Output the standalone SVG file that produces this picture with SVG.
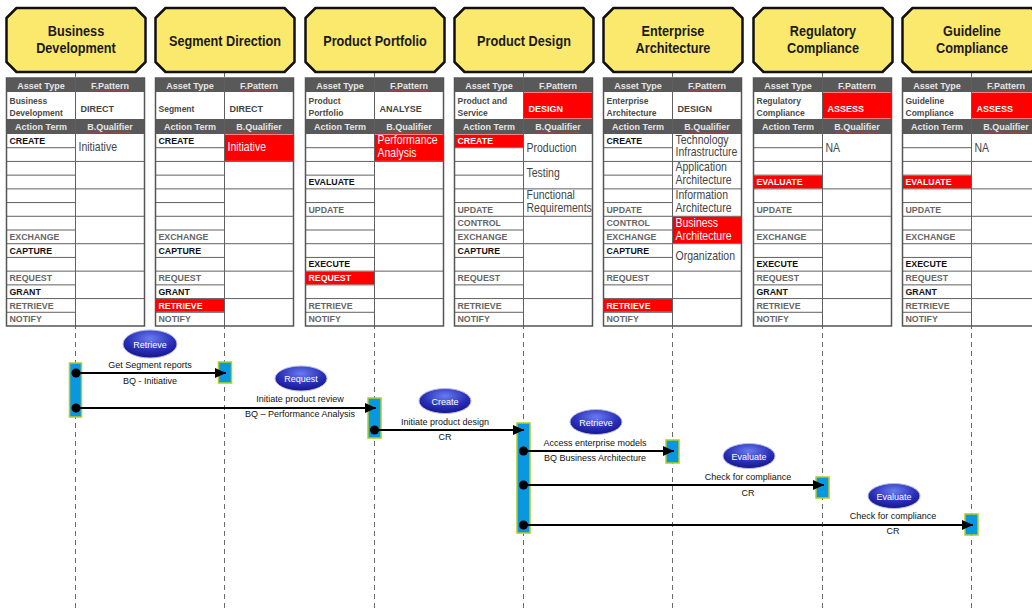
<svg xmlns="http://www.w3.org/2000/svg" xmlns:xlink="http://www.w3.org/1999/xlink" width="1032" height="612" viewBox="0 0 1032 612">
<defs>
<style>
.oct{fill:#fbe96e;stroke:#111;stroke-width:2.5;stroke-linejoin:round}
.ttl{font-family:"Liberation Sans",Arial,sans-serif;font-weight:bold;font-size:15.5px;text-anchor:middle;fill:#1a1a1a}
.hd{font-family:"Liberation Sans",Arial,sans-serif;font-weight:bold;font-size:9px;text-anchor:middle;fill:#e6e6e6}
.at{font-family:"Liberation Sans",Arial,sans-serif;font-weight:bold;font-size:8.5px;fill:#4a4a4a}
.fp{font-family:"Liberation Sans",Arial,sans-serif;font-weight:bold;font-size:9px;fill:#444}
.ak{font-family:"Liberation Sans",Arial,sans-serif;font-weight:bold;font-size:8.8px;fill:#111}
.ag{font-family:"Liberation Sans",Arial,sans-serif;font-weight:bold;font-size:8.8px;fill:#666}
.bq{font-family:"Liberation Sans",Arial,sans-serif;font-size:12.5px;fill:#444}
.w{fill:#fff}
.red{fill:#ff0000}
.hdr{fill:#595959}
.grid{stroke:#606060;stroke-width:1;fill:none}
.sq{stroke:#e03030;stroke-width:0.8;stroke-dasharray:1 1}
.life{stroke:#6a6a6a;stroke-width:1;stroke-dasharray:5 4;fill:none}
.bar{fill:#0a97e2;stroke:#b5cc1e;stroke-width:1.5}
.msg{stroke:#000;stroke-width:2;fill:none;marker-end:url(#ah)}
.dot{fill:#000}
.lbl{font-family:"Liberation Sans",Arial,sans-serif;font-size:9px;text-anchor:middle;fill:#111}
.ell{fill:url(#eg);stroke:#b8bce0;stroke-width:1}
.elt{font-family:"Liberation Sans",Arial,sans-serif;font-size:9px;text-anchor:middle;fill:#fff}
</style>
<radialGradient id="eg" cx="0.5" cy="0.3" r="0.7">
<stop offset="0" stop-color="#6a7cf0"/>
<stop offset="0.6" stop-color="#2a30b8"/>
<stop offset="1" stop-color="#15158a"/>
</radialGradient>
<marker id="ah" markerUnits="userSpaceOnUse" markerWidth="12" markerHeight="10" refX="11" refY="5" orient="auto">
<path d="M0,0 L11,5 L0,10 Z" fill="#000"/>
</marker>
<g id="tbl">
<rect x="0" y="78" width="138" height="248" fill="#fff"/>
<rect class="hdr" x="0" y="78" width="138" height="14"/>
<rect class="hdr" x="0" y="119" width="138" height="15"/>
<path class="grid" d="M69,78V326 M0,147.71H69 M0,161.43H69 M0,175.14H69 M0,188.86H69 M0,202.57H69 M0,216.29H69 M0,230H69 M0,243.71H69 M0,257.43H69 M0,271.14H69 M0,284.86H69 M0,298.57H69 M0,312.29H69 M69,161.43H138 M69,188.86H138 M69,216.29H138 M69,243.71H138 M69,271.14H138 M69,298.57H138"/>
<rect x="0" y="78" width="138" height="248" fill="none" stroke="#555" stroke-width="1.5"/>
<text class="hd" x="34.5" y="88.5">Asset Type</text>
<text class="hd" x="103.5" y="88.5">F.Pattern</text>
<text class="hd" x="34.5" y="130">Action Term</text>
<text class="hd" x="103.5" y="130">B.Qualifier</text>
<path class="sq" d="M85,90.5H122 M83,132.5H124"/>
</g>
<path id="octp" class="oct" d="M10,8H129L139,18V62L129,72H10L0,62V18Z"/>
</defs>
<rect width="1032" height="612" fill="#fff"/>

<g id="lifelines">
<path class="life" d="M75.5,72V612 M224.5,72V612 M374.5,72V612 M523.5,72V612 M672.5,72V612 M822.5,72V612 M971.5,72V612"/>
</g>

<g id="node-business-development" transform="translate(6.5,0)">
<use href="#octp"/>
<g transform="translate(69.5,0) scale(0.82,1)">
<text class="ttl" x="0" y="36">Business</text>
<text class="ttl" x="0" y="53">Development</text>
</g>
<use href="#tbl"/>
<text class="at" x="3" y="104">Business</text>
<text class="at" x="3" y="116">Development</text>
<text class="fp" x="74" y="111.5">DIRECT</text>
<g transform="translate(72,0) scale(0.84,1)">
<text class="bq" x="0" y="151">Initiative</text>
</g>
<text class="ak" x="3" y="144">CREATE</text>
<text class="ag" x="3" y="240">EXCHANGE</text>
<text class="ak" x="3" y="253.7">CAPTURE</text>
<text class="ag" x="3" y="281.1">REQUEST</text>
<text class="ak" x="3" y="294.9">GRANT</text>
<text class="ag" x="3" y="308.6">RETRIEVE</text>
<text class="ag" x="3" y="322.3">NOTIFY</text>
</g>

<g id="node-segment-direction" transform="translate(155.5,0)">
<use href="#octp"/>
<g transform="translate(69.5,0) scale(0.82,1)">
<text class="ttl" x="0" y="46">Segment Direction</text>
</g>
<use href="#tbl"/>
<rect class="red" x="69.5" y="134.5" width="68" height="26.4"/>
<rect class="red" x="0.5" y="299.07" width="68" height="12.7"/>
<text class="at" x="3" y="111.5">Segment</text>
<text class="fp" x="74" y="111.5">DIRECT</text>
<g transform="translate(72,0) scale(0.84,1)">
<text class="bq w" x="0" y="151">Initiative</text>
</g>
<text class="ak" x="3" y="144">CREATE</text>
<text class="ag" x="3" y="240">EXCHANGE</text>
<text class="ak" x="3" y="253.7">CAPTURE</text>
<text class="ag" x="3" y="281.1">REQUEST</text>
<text class="ak" x="3" y="294.9">GRANT</text>
<text class="ak w" x="3" y="308.6">RETRIEVE</text>
<text class="ag" x="3" y="322.3">NOTIFY</text>
</g>

<g id="node-product-portfolio" transform="translate(305.5,0)">
<use href="#octp"/>
<g transform="translate(69.5,0) scale(0.82,1)">
<text class="ttl" x="0" y="46">Product Portfolio</text>
</g>
<use href="#tbl"/>
<rect class="red" x="69.5" y="134.5" width="68" height="26.4"/>
<rect class="red" x="0.5" y="271.64" width="68" height="12.7"/>
<text class="at" x="3" y="104">Product</text>
<text class="at" x="3" y="116">Portfolio</text>
<text class="fp" x="74" y="111.5">ANALYSE</text>
<g transform="translate(72,0) scale(0.84,1)">
<text class="bq w" x="0" y="144.5">Performance</text>
<text class="bq w" x="0" y="157.5">Analysis</text>
</g>
<text class="ak" x="3" y="185.1">EVALUATE</text>
<text class="ag" x="3" y="212.6">UPDATE</text>
<text class="ak" x="3" y="267.4">EXECUTE</text>
<text class="ak w" x="3" y="281.1">REQUEST</text>
<text class="ag" x="3" y="308.6">RETRIEVE</text>
<text class="ag" x="3" y="322.3">NOTIFY</text>
</g>

<g id="node-product-design" transform="translate(454.5,0)">
<use href="#octp"/>
<g transform="translate(69.5,0) scale(0.82,1)">
<text class="ttl" x="0" y="46">Product Design</text>
</g>
<use href="#tbl"/>
<rect class="red" x="69.5" y="92.5" width="68" height="26"/>
<rect class="red" x="0.5" y="134.5" width="68" height="12.7"/>
<text class="at" x="3" y="104">Product and</text>
<text class="at" x="3" y="116">Service</text>
<text class="fp w" x="74" y="111.5">DESIGN</text>
<g transform="translate(72,0) scale(0.84,1)">
<text class="bq" x="0" y="152">Production</text>
<text class="bq" x="0" y="177">Testing</text>
<text class="bq" x="0" y="199">Functional</text>
<text class="bq" x="0" y="212">Requirements</text>
</g>
<text class="ak w" x="3" y="144">CREATE</text>
<text class="ag" x="3" y="212.6">UPDATE</text>
<text class="ag" x="3" y="226.3">CONTROL</text>
<text class="ag" x="3" y="240">EXCHANGE</text>
<text class="ak" x="3" y="253.7">CAPTURE</text>
<text class="ag" x="3" y="281.1">REQUEST</text>
<text class="ag" x="3" y="308.6">RETRIEVE</text>
<text class="ag" x="3" y="322.3">NOTIFY</text>
</g>

<g id="node-enterprise-architecture" transform="translate(603.5,0)">
<use href="#octp"/>
<g transform="translate(69.5,0) scale(0.82,1)">
<text class="ttl" x="0" y="36">Enterprise</text>
<text class="ttl" x="0" y="53">Architecture</text>
</g>
<use href="#tbl"/>
<rect class="red" x="69.5" y="216.79" width="68" height="26.4"/>
<rect class="red" x="0.5" y="299.07" width="68" height="12.7"/>
<text class="at" x="3" y="104">Enterprise</text>
<text class="at" x="3" y="116">Architecture</text>
<text class="fp" x="74" y="111.5">DESIGN</text>
<g transform="translate(72,0) scale(0.84,1)">
<text class="bq" x="0" y="144">Technology</text>
<text class="bq" x="0" y="156.5">Infrastructure</text>
<text class="bq" x="0" y="171">Application</text>
<text class="bq" x="0" y="184">Architecture</text>
<text class="bq" x="0" y="199">Information</text>
<text class="bq" x="0" y="212">Architecture</text>
<text class="bq w" x="0" y="227">Business</text>
<text class="bq w" x="0" y="240">Architecture</text>
<text class="bq" x="0" y="260">Organization</text>
</g>
<text class="ak" x="3" y="144">CREATE</text>
<text class="ag" x="3" y="212.6">UPDATE</text>
<text class="ag" x="3" y="226.3">CONTROL</text>
<text class="ag" x="3" y="240">EXCHANGE</text>
<text class="ak" x="3" y="253.7">CAPTURE</text>
<text class="ag" x="3" y="281.1">REQUEST</text>
<text class="ak w" x="3" y="308.6">RETRIEVE</text>
<text class="ag" x="3" y="322.3">NOTIFY</text>
</g>

<g id="node-regulatory-compliance" transform="translate(753.5,0)">
<use href="#octp"/>
<g transform="translate(69.5,0) scale(0.82,1)">
<text class="ttl" x="0" y="36">Regulatory</text>
<text class="ttl" x="0" y="53">Compliance</text>
</g>
<use href="#tbl"/>
<rect class="red" x="69.5" y="92.5" width="68" height="26"/>
<rect class="red" x="0.5" y="175.64" width="68" height="12.7"/>
<text class="at" x="3" y="104">Regulatory</text>
<text class="at" x="3" y="116">Compliance</text>
<text class="fp w" x="74" y="111.5">ASSESS</text>
<g transform="translate(72,0) scale(0.84,1)">
<text class="bq" x="0" y="152">NA</text>
</g>
<text class="ak w" x="3" y="185.1">EVALUATE</text>
<text class="ag" x="3" y="212.6">UPDATE</text>
<text class="ag" x="3" y="240">EXCHANGE</text>
<text class="ak" x="3" y="267.4">EXECUTE</text>
<text class="ag" x="3" y="281.1">REQUEST</text>
<text class="ak" x="3" y="294.9">GRANT</text>
<text class="ag" x="3" y="308.6">RETRIEVE</text>
<text class="ag" x="3" y="322.3">NOTIFY</text>
</g>

<g id="node-guideline-compliance" transform="translate(902.5,0)">
<use href="#octp"/>
<g transform="translate(69.5,0) scale(0.82,1)">
<text class="ttl" x="0" y="36">Guideline</text>
<text class="ttl" x="0" y="53">Compliance</text>
</g>
<use href="#tbl"/>
<rect class="red" x="69.5" y="92.5" width="68" height="26"/>
<rect class="red" x="0.5" y="175.64" width="68" height="12.7"/>
<text class="at" x="3" y="104">Guideline</text>
<text class="at" x="3" y="116">Compliance</text>
<text class="fp w" x="74" y="111.5">ASSESS</text>
<g transform="translate(72,0) scale(0.84,1)">
<text class="bq" x="0" y="152">NA</text>
</g>
<text class="ak w" x="3" y="185.1">EVALUATE</text>
<text class="ag" x="3" y="212.6">UPDATE</text>
<text class="ag" x="3" y="240">EXCHANGE</text>
<text class="ak" x="3" y="267.4">EXECUTE</text>
<text class="ag" x="3" y="281.1">REQUEST</text>
<text class="ak" x="3" y="294.9">GRANT</text>
<text class="ag" x="3" y="308.6">RETRIEVE</text>
<text class="ag" x="3" y="322.3">NOTIFY</text>
</g>

<g id="activations">
<rect class="bar" x="69.5" y="363" width="12" height="54"/>
<rect class="bar" x="218.5" y="362" width="13" height="21"/>
<rect class="bar" x="368" y="398" width="13" height="40"/>
<rect class="bar" x="517" y="423" width="13" height="110"/>
<rect class="bar" x="666" y="440" width="13" height="23"/>
<rect class="bar" x="816" y="477" width="13" height="21"/>
<rect class="bar" x="965" y="514" width="13" height="21"/>
</g>

<g id="connectors">
<path class="msg" d="M76,373H226"/>
<circle class="dot" cx="76" cy="373" r="4.5"/>
<path class="msg" d="M76,408H376"/>
<circle class="dot" cx="76" cy="408" r="4.5"/>
<path class="msg" d="M374.5,430H524"/>
<circle class="dot" cx="374.5" cy="430" r="4.5"/>
<path class="msg" d="M523.5,451H674"/>
<circle class="dot" cx="523.5" cy="451" r="4.5"/>
<path class="msg" d="M523.5,485H824"/>
<circle class="dot" cx="523.5" cy="485" r="4.5"/>
<path class="msg" d="M523.5,525H973"/>
<circle class="dot" cx="523.5" cy="525" r="4.5"/>
</g>

<g id="message-labels">
<ellipse class="ell" cx="150" cy="344" rx="27" ry="14"/>
<text class="elt" x="150" y="347.5">Retrieve</text>
<text class="lbl" x="150" y="367.5">Get Segment reports</text>
<text class="lbl" x="150" y="383.5">BQ - Initiative</text>

<ellipse class="ell" cx="301" cy="378.5" rx="26" ry="12.5"/>
<text class="elt" x="301" y="382">Request</text>
<text class="lbl" x="300" y="402">Initiate product review</text>
<text class="lbl" x="300" y="416.5">BQ – Performance Analysis</text>

<ellipse class="ell" cx="445" cy="401" rx="26" ry="12.5"/>
<text class="elt" x="445" y="404.5">Create</text>
<text class="lbl" x="445" y="425">Initiate product design</text>
<text class="lbl" x="445" y="440">CR</text>

<ellipse class="ell" cx="596" cy="422" rx="26" ry="12.5"/>
<text class="elt" x="596" y="425.5">Retrieve</text>
<text class="lbl" x="595" y="446">Access enterprise models</text>
<text class="lbl" x="595" y="461">BQ Business Architecture</text>

<ellipse class="ell" cx="749" cy="456" rx="26" ry="12.5"/>
<text class="elt" x="749" y="459.5">Evaluate</text>
<text class="lbl" x="748" y="480">Check for compliance</text>
<text class="lbl" x="748" y="496">CR</text>

<ellipse class="ell" cx="894" cy="496" rx="26" ry="12.5"/>
<text class="elt" x="894" y="499.5">Evaluate</text>
<text class="lbl" x="893" y="519">Check for compliance</text>
<text class="lbl" x="893" y="534">CR</text>
</g>
</svg>
